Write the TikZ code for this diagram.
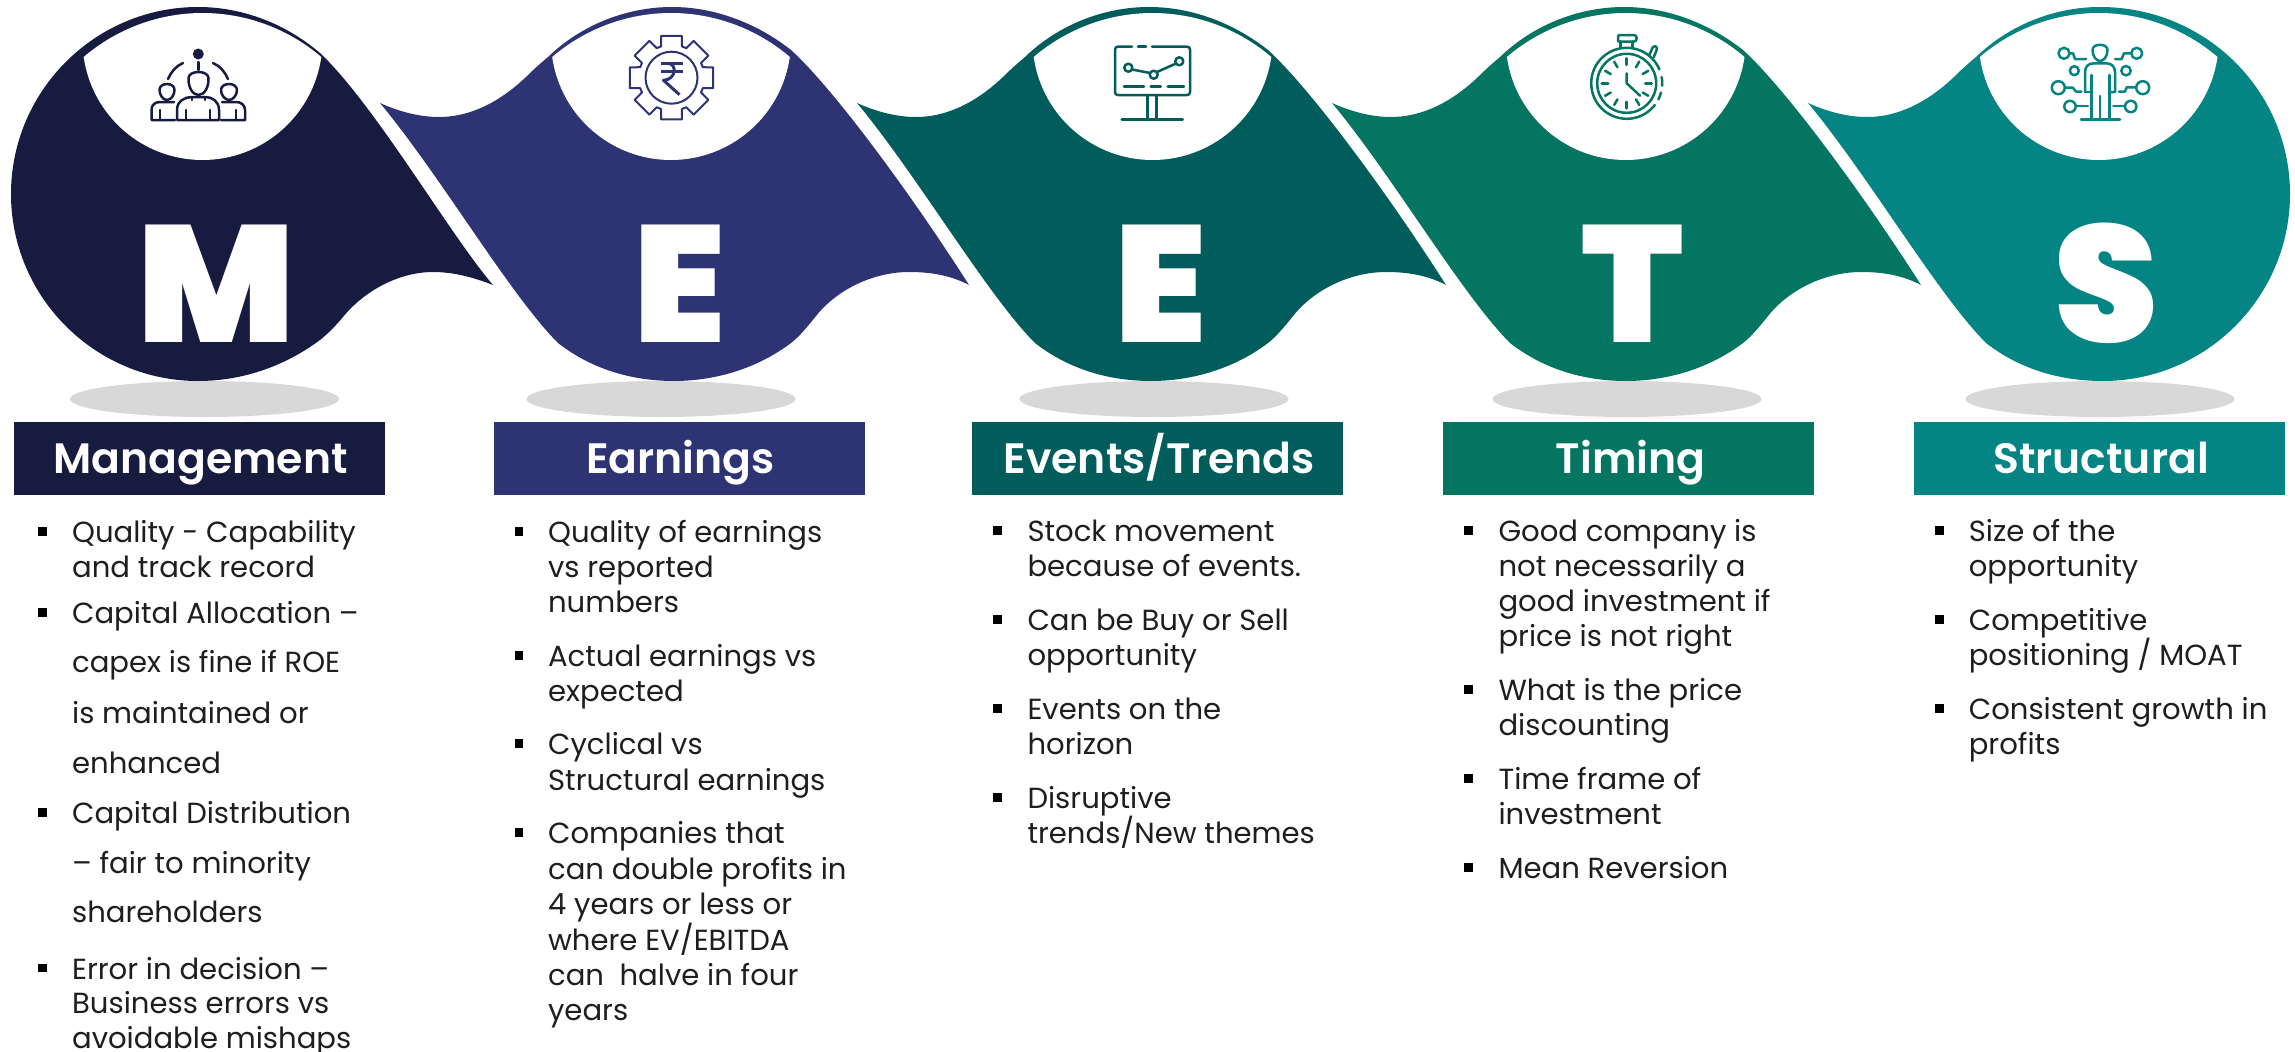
\documentclass[tikz,border=0pt]{standalone}
\usepackage{fontspec}
\setmainfont{Poppins}
\newfontfamily\phead{Poppins SemiBold}
\newfontfamily\pblack{Poppins Black}
\usetikzlibrary{calc,shapes.geometric}
\definecolor{cM}{HTML}{181B40}
\definecolor{cE}{HTML}{2E3374}
\definecolor{cV}{HTML}{015C5C}
\definecolor{cT}{HTML}{047560}
\definecolor{cS}{HTML}{048482}
\definecolor{shade}{HTML}{D8D8D8}
\definecolor{bodyc}{HTML}{1E1E1E}
\tikzset{
  x=1pt,y=-1pt,
  bodytext/.style={anchor=base west,inner sep=0pt,text=bodyc,font=\fontsize{29.1}{35}\selectfont},
  bulletbox/.style={rectangle,fill=black,inner sep=0pt,minimum width=8.6pt,minimum height=8.6pt,anchor=center},
  headbox/.style={rectangle,inner sep=0pt,anchor=north west,minimum width=371pt,minimum height=73pt},
  headtext/.style={anchor=base,inner sep=0pt,text=white,font=\phead\fontsize{42.5}{50}\selectfont},
  bigletter/.style={anchor=base,inner sep=0pt,text=white,font=\pblack\fontsize{166}{166}\selectfont},
  ground/.style={ellipse,fill=shade,inner sep=0pt,minimum width=269pt,minimum height=36pt},
  iconline/.style={line width=2.5pt,line cap=round,line join=round}
}
\newcommand\tl[4]{\node[bodytext] (#1) at (#2-0.4,#3+1.4) {#4};}
\newcommand\bu[3]{\node[bulletbox] (#1) at (#2,#3-9.8) {};}
% E-shaped wave at a horizontal shift
\newcommand\wave[2]{%
  \fill[#1,shift={(#2,0)}] (672,7) .. controls (716,7) and (758,24) .. (791,50)
  .. controls (835,90) and (915,200) .. (969,285)
  .. controls (950,275) and (930,272) .. (909,272)
  .. controls (875,272) and (840,288) .. (818.5,313)
  .. controls (808,326) and (800,336) .. (791,343)
  .. controls (758,368) and (716,381) .. (674,381)
  .. controls (630,381) and (590,368) .. (558,343)
  .. controls (510,295) and (440,175) .. (380,103)
  .. controls (400,112) and (420,117) .. (439,117)
  .. controls (475,117) and (505,97) .. (526,77)
  .. controls (535,68) and (541,63) .. (548,57)
  .. controls (580,26) and (625,7) .. (672,7) -- cycle;}
\newcommand\lens[1]{%
  \fill[white,shift={(#1,0)}] (-118.8,57) .. controls (-85.8,28.7) and (-43.5,13) .. (0,13)
    .. controls (43.5,13) and (85.8,28.7) .. (118.8,57)
    .. controls (110.3,116.1) and (59.7,160) .. (0,160)
    .. controls (-59.7,160) and (-110.3,116.1) .. (-118.8,57) -- cycle;}
\begin{document}
\begin{tikzpicture}
\useasboundingbox (0,0) rectangle (2295,1052);
% shadows
\node[ground] (g1) at (204.5,399) {};
\node[ground] (g2) at (661,399) {};
\node[ground] (g3) at (1154,399) {};
\node[ground] (g4) at (1627,399) {};
\node[ground] (g5) at (2100,399) {};
% shapes
\fill[cM] (198,7) .. controls (95,7) and (11,91) .. (11,194) .. controls (11,297) and (95,381) .. (198,381)
  .. controls (243,381) and (285,366) .. (320,340)
  .. controls (330,332) and (338,323) .. (343,317)
  .. controls (365,290) and (400,272) .. (433,272)
  .. controls (455,272) and (475,278) .. (493,285)
  .. controls (450,235) and (375,105) .. (320,53)
  .. controls (286,24) and (243,7) .. (198,7) -- cycle;
\wave{cE}{0}
\wave{cV}{477}
\wave{cT}{952}
\fill[cS,shift={(1428,0)}] (675,381)
  .. controls (630,381) and (590,368) .. (558,343)
  .. controls (510,295) and (440,175) .. (380,103)
  .. controls (400,112) and (420,117) .. (439,117)
  .. controls (475,117) and (505,97) .. (526,77)
  .. controls (535,68) and (541,63) .. (548,57)
  .. controls (580,26) and (625,7) .. (672,7)
  .. controls (778,7) and (862,91) .. (862,194)
  .. controls (862,297) and (778,381) .. (675,381) -- cycle;
% lenses
\lens{202.5} \lens{671} \lens{1152.5} \lens{1625.7} \lens{2098.7}
% big letters
\node[bigletter] (LM) at (216,342) {M};
\node[bigletter] (LE) at (679.5,342) {E};
\node[bigletter] (LV) at (1161,342) {E};
\node[bigletter] (LT) at (1632.5,342) {T};
\node[bigletter] (LS) at (2106,342) {S};
% icon: people
\begin{scope}[cM,iconline]
\fill (198.3,54) circle (5.5);
\draw (198.3,62) -- (198.3,70);
\draw (168,79) .. controls (171,72) and (176,66) .. (183,63);
\draw (213,63) .. controls (220,66) and (225,72) .. (228,79);
\draw (188.5,78) .. controls (189,70) and (208,70) .. (208.5,78) .. controls (209,86) and (205,95) .. (198.5,95) .. controls (192,95) and (188,86) .. (188.5,78) -- cycle;
\draw (192,97) -- (192,100) (205,97) -- (205,100);
\draw (177,120) -- (177,110) .. controls (177,101) and (185,97) .. (192,97) -- (205,97) .. controls (212,97) and (219,101) .. (219,110) -- (219,120) -- cycle;
\draw (186,120) -- (186,110) (210,120) -- (210,110);
\draw (159.5,90) .. controls (159.5,82) and (174.5,82) .. (174.5,90) .. controls (174.5,95) and (171,100) .. (167,100) .. controls (163,100) and (159.5,95) .. (159.5,90) -- cycle;
\draw (174,102) -- (160,102) .. controls (155,102) and (151.5,105) .. (151.5,110) -- (151.5,120) -- (175,120);
\draw (160,120) -- (160,110);
\draw (221,90) .. controls (221,82) and (237,82) .. (237,90) .. controls (237,95) and (233,100) .. (229,100) .. controls (225,100) and (221,95) .. (221,90) -- cycle;
\draw (222,102) -- (236,102) .. controls (241,102) and (245,105) .. (245,110) -- (245,120) -- (221,120);
\draw (236,120) -- (236,110);
\end{scope}
% icon: gear with rupee sign
\begin{scope}[shift={(671.5,77.7)},cE,line width=2pt,line join=round]
\draw (-18.5:33) \foreach \a in {0,45,...,315}{ -- ({\a-18.5}:33) -- ({\a-14}:43) -- ({\a+14}:43) -- ({\a+18.5}:33)} -- cycle;
\draw (0,0) circle (26);
\begin{scope}[line width=3pt,line cap=butt]
\draw (-11,-14.4) -- (11,-14.4) (-11,-6) -- (11,-6);
\draw (-4,-14.4) .. controls (6,-14.4) and (5,2) .. (-8,2.6) -- (8,17);
\end{scope}
\end{scope}
% icon: presentation board
\begin{scope}[cV,iconline]
\draw (1132,46.7) -- (1118,46.7) .. controls (1116,46.7) and (1115,47.7) .. (1115,49.7) -- (1115,92) .. controls (1115,94) and (1116,95) .. (1118,95) -- (1187,95) .. controls (1189,95) and (1190,94) .. (1190,92) -- (1190,49.7) .. controls (1190,47.7) and (1189,46.7) .. (1187,46.7) -- (1152,46.7);
\draw (1138,46.7) -- (1146,46.7);
\draw (1128.3,67.7) circle (4);
\draw (1153.7,74.7) circle (4);
\draw (1179.3,61.3) circle (4);
\draw (1132,69.5) -- (1150,73) (1157,72) -- (1176,63.5);
\draw (1124,86.3) -- (1144,86.3) (1150.7,86.3) -- (1160.7,86.3) (1167.7,86.3) -- (1184,86.3);
\draw (1147.7,95) -- (1147.7,119.3) (1156.7,95) -- (1156.7,119.3);
\draw (1121.7,119.3) -- (1182.7,119.3);
\end{scope}
% icon: stopwatch
\begin{scope}[shift={(1626.7,83.3)},cT,iconline]
\draw plot[smooth,domain=37.7:337,samples=60] (\x:35.5);
\draw plot[smooth,domain=-10:4,samples=5] (\x:35.5);
\draw plot[smooth,domain=15:27,samples=5] (\x:35.5);
\draw (0,0) circle (29.5);
\foreach \a in {0,30,...,330}{\draw (\a:18.5) -- (\a:25);}
\draw (0,-10) -- (0,0) -- (13.3,12.4);
\draw (-6,-36) -- (-6,-42) (6,-36) -- (6,-42);
\draw (-7,-48.3) -- (7,-48.3) .. controls (9,-48.3) and (10,-47) .. (10,-45.5) .. controls (10,-43) and (9,-41.6) .. (7,-41.6) -- (-7,-41.6) .. controls (-9,-41.6) and (-8.5,-41.6) .. (-8.5,-45) .. controls (-8.5,-47) and (-9,-48.3) .. (-7,-48.3) -- cycle;
\draw (22.5,-28) -- (26,-36) .. controls (28,-38) and (31,-37) .. (30,-33.5) -- (27,-26);
\end{scope}
% icon: person with circuits
\begin{scope}[cS,iconline]
\draw (2092.5,50) .. controls (2092.5,43) and (2107.5,43) .. (2107.5,50) .. controls (2107.5,56) and (2104,61) .. (2100,61) .. controls (2096,61) and (2092.5,56) .. (2092.5,50) -- cycle;
\draw (2085,92) -- (2085,72) .. controls (2085,66) and (2089,63.3) .. (2094,63.3) -- (2106,63.3) .. controls (2111,63.3) and (2115,66) .. (2115,72) -- (2115,92) -- (2109.3,92);
\draw (2085,92) -- (2091.7,92);
\draw (2091.7,75) -- (2091.7,119) (2109.3,75) -- (2109.3,119);
\draw (2100,96) -- (2100,119);
\draw (2081,119.3) -- (2120,119.3);
\draw (2064,53.3) circle (5.5) (2136.7,53.3) circle (5.5);
\draw (2074.3,70.7) circle (4.5) (2126,70.7) circle (4.7);
\draw (2058.3,87.7) circle (6.5) (2142.7,87.7) circle (6.5);
\draw (2070,106.5) circle (5.7) (2130.7,106.5) circle (5.7);
\draw (2070,53.3) -- (2073,53.3) -- (2075,59) -- (2086,59);
\draw (2130,53.3) -- (2124,53.3) -- (2121.7,59) -- (2115,59);
\draw (2065,87.7) -- (2073,87.7) -- (2076,91.7) -- (2081.5,91.7);
\draw (2135.5,87.3) -- (2126.7,87.3) -- (2125,91.7) -- (2119,91.7);
\draw (2076,106) -- (2088,106) (2125,106) -- (2113.3,106);
\end{scope}
% header boxes
\node[headbox,fill=cM] (h1) at (14,422) {};
\node[headbox,fill=cE] (h2) at (494,422) {};
\node[headbox,fill=cV] (h3) at (972,422) {};
\node[headbox,fill=cT] (h4) at (1443,422) {};
\node[headbox,fill=cS] (h5) at (1914,422) {};
\node[headtext] (t1) at (200.5,473) {Management};
\node[headtext] (t2) at (680.5,473) {Earnings};
\node[headtext] (t3) at (1159,473) {Events/Trends};
\node[headtext] (t4) at (1630.5,473) {Timing};
\node[headtext] (t5) at (2101,473) {Structural};
% column 1
\bu{a1}{42.5}{541}
\tl{a11}{72.3}{541}{Quality - Capability}
\tl{a12}{72.3}{576}{and track record}
\bu{a2}{42.5}{622}
\tl{a21}{72.3}{622.3}{Capital Allocation –}
\tl{a22}{72.3}{671.5}{capex is fine if ROE}
\tl{a23}{72.3}{722.3}{is maintained or}
\tl{a24}{72.3}{772.3}{enhanced}
\bu{a3}{42.5}{822}
\tl{a31}{72.3}{822}{Capital Distribution}
\tl{a32}{72.3}{871.9}{– fair to minority}
\tl{a33}{72.3}{921}{shareholders}
\bu{a4}{42.5}{977.6}
\tl{a41}{72.3}{977.6}{Error in decision –}
\tl{a42}{72.3}{1012.5}{Business errors vs}
\tl{a43}{72.3}{1047.3}{avoidable mishaps}
% column 2
\bu{b1}{519}{541}
\tl{b11}{548.3}{541}{Quality of earnings}
\tl{b12}{548.3}{576}{vs reported}
\tl{b13}{548.3}{611}{numbers}
\bu{b2}{519}{665}
\tl{b21}{548.3}{665}{Actual earnings vs}
\tl{b22}{548.3}{700}{expected}
\bu{b3}{519}{753}
\tl{b31}{548.3}{753}{Cyclical vs}
\tl{b32}{548.3}{789}{Structural earnings}
\bu{b4}{519}{842}
\tl{b41}{548.3}{842}{Companies that}
\tl{b42}{548.3}{878}{can double profits in}
\tl{b43}{548.3}{913}{4 years or less or}
\tl{b44}{548.3}{949}{where EV/EBITDA}
\tl{b45}{548.3}{984}{can\ \ halve in four}
\tl{b46}{548.3}{1019}{years}
% column 3
\bu{c1}{997.5}{540}
\tl{c11}{1027.7}{540}{Stock movement}
\tl{c12}{1027.7}{575}{because of events.}
\bu{c2}{997.5}{629}
\tl{c21}{1027.7}{629}{Can be Buy or Sell}
\tl{c22}{1027.7}{664}{opportunity}
\bu{c3}{997.5}{718}
\tl{c31}{1027.7}{718}{Events on the}
\tl{c32}{1027.7}{753}{horizon}
\bu{c4}{997.5}{807}
\tl{c41}{1027.7}{807}{Disruptive}
\tl{c42}{1027.7}{842}{trends/New themes}
% column 4
\bu{d1}{1468.5}{540}
\tl{d11}{1498.7}{540}{Good company is}
\tl{d12}{1498.7}{575}{not necessarily a}
\tl{d13}{1498.7}{610}{good investment if}
\tl{d14}{1498.7}{645}{price is not right}
\bu{d2}{1468.5}{699}
\tl{d21}{1498.7}{699}{What is the price}
\tl{d22}{1498.7}{734}{discounting}
\bu{d3}{1468.5}{788}
\tl{d31}{1498.7}{788}{Time frame of}
\tl{d32}{1498.7}{823}{investment}
\bu{d4}{1468.5}{877}
\tl{d41}{1498.7}{877}{Mean Reversion}
% column 5
\bu{e1}{1939.3}{540}
\tl{e11}{1969}{540}{Size of the}
\tl{e12}{1969}{575}{opportunity}
\bu{e2}{1939.3}{629}
\tl{e21}{1969}{629}{Competitive}
\tl{e22}{1969}{664}{positioning / MOAT}
\bu{e3}{1939.3}{718}
\tl{e31}{1969}{718}{Consistent growth in}
\tl{e32}{1969}{753}{profits}
\end{tikzpicture}
\end{document}
